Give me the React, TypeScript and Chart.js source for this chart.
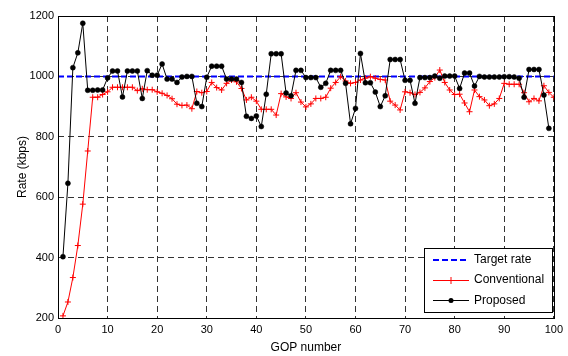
import React, { useEffect, useRef } from "react";
import { Chart, registerables } from "chart.js";

Chart.register(...registerables);

// Proposed method, GOP 1..99 (kbps)
const proposed = [
  403, 646, 1029, 1078, 1176, 954, 954, 955, 955, 995,
  1018, 1018, 932, 1018, 1018, 1018, 927, 1019, 1004, 1004,
  1041, 991, 991, 980, 998, 1000, 1000, 911, 900, 997,
  1034, 1034, 1034, 991, 991, 991, 980, 868, 861, 869,
  834, 941, 1075, 1075, 1075, 945, 936, 1020, 1020, 996,
  996, 996, 964, 977, 1020, 1020, 1020, 977, 843, 894,
  1076, 979, 979, 948, 900, 936, 1056, 1056, 1056, 987,
  987, 911, 996, 996, 996, 1001, 994, 1001, 1001, 1001,
  960, 1011, 1011, 968, 1000, 998, 998, 998, 998, 999,
  999, 998, 994, 931, 1023, 1023, 1023, 938, 828,
];

// Conventional method, GOP 1..100 (kbps)
const conventional = [
  207, 253, 334, 440, 577, 753, 931, 931, 940, 949,
  964, 964, 964, 964, 964, 953, 959, 956, 956, 949,
  944, 937, 926, 908, 904, 905, 893, 950, 946, 950,
  980, 963, 955, 977, 988, 982, 960, 922, 931, 918,
  891, 891, 891, 872, 943, 932, 927, 946, 915, 899,
  909, 927, 927, 931, 961, 980, 999, 985, 977, 980,
  988, 994, 999, 994, 990, 988, 918, 905, 889, 949,
  946, 940, 947, 962, 983, 996, 1021, 980, 955, 940,
  941, 912, 883, 955, 933, 922, 903, 909, 927, 977,
  974, 974, 974, 946, 916, 927, 919, 969, 947, 931,
];

const targetGop = [0, 100];
const targetRate = [1000, 1000];

const legendLabels = ["Target rate", "Conventional", "Proposed"];
const xTitle = "GOP number";
const yTitle = "Rate (kbps)";

const FONT = "'Liberation Sans', Arial, Helvetica, sans-serif";

const framePlugin = {
  id: "frameAndLegend",
  afterDatasetsDraw(chart: any) {
    const { ctx, chartArea: a } = chart;
    ctx.save();
    ctx.strokeStyle = "#000";
    ctx.lineWidth = 1;
    ctx.setLineDash([]);
    const L = Math.round(a.left), T = Math.round(a.top);
    const R = Math.round(a.right), B = Math.round(a.bottom);
    ctx.strokeRect(L + 0.5, T + 0.5, R - L, B - T);

    // legend box
    const w = 128, h = 64;
    const x0 = R - 2 - w;
    const y0 = B - 6 - h;
    ctx.fillStyle = "#fff";
    ctx.fillRect(x0, y0, w, h);
    ctx.strokeRect(x0 + 0.5, y0 + 0.5, w, h);

    const lx1 = x0 + 9, lx2 = x0 + 45, mx = (lx1 + lx2) / 2;
    const rows = [y0 + 12, y0 + 32, y0 + 52.5];

    // Target rate
    ctx.strokeStyle = "#0000ff";
    ctx.lineWidth = 2;
    ctx.setLineDash([6, 3]);
    ctx.beginPath();
    ctx.moveTo(lx1, rows[0]);
    ctx.lineTo(lx2, rows[0]);
    ctx.stroke();
    ctx.setLineDash([]);

    // Conventional
    ctx.strokeStyle = "#ff0000";
    ctx.lineWidth = 1;
    ctx.beginPath();
    ctx.moveTo(lx1, rows[1] + 0.5);
    ctx.lineTo(lx2, rows[1] + 0.5);
    ctx.moveTo(mx, rows[1] - 3);
    ctx.lineTo(mx, rows[1] + 4);
    ctx.stroke();

    // Proposed
    ctx.strokeStyle = "#000";
    ctx.fillStyle = "#000";
    ctx.beginPath();
    ctx.moveTo(lx1, rows[2]);
    ctx.lineTo(lx2, rows[2]);
    ctx.stroke();
    ctx.beginPath();
    ctx.arc(mx, rows[2], 2.5, 0, Math.PI * 2);
    ctx.fill();

    ctx.fillStyle = "#000";
    ctx.font = `12px ${FONT}`;
    ctx.textBaseline = "middle";
    ctx.textAlign = "left";
    legendLabels.forEach((t, i) => ctx.fillText(t, x0 + 50, rows[i]));
    ctx.restore();
  },
};

export default function App() {
  const ref = useRef<HTMLCanvasElement | null>(null);

  useEffect(() => {
    if (!ref.current) return;
    const chart = new Chart(ref.current, {
      type: "line",
      data: {
        datasets: [
          {
            label: legendLabels[0],
            data: targetGop.map((x, i) => ({ x, y: targetRate[i] })),
            borderColor: "#0000ff",
            borderWidth: 2,
            borderDash: [6, 3],
            pointRadius: 0,
            fill: false,
            order: 2,
          },
          {
            label: legendLabels[1],
            data: conventional.map((y, i) => ({ x: i + 1, y })),
            borderColor: "#ff0000",
            backgroundColor: "#ff0000",
            borderWidth: 1,
            pointStyle: "cross",
            pointRadius: 3,
            pointBorderWidth: 1,
            pointBorderColor: "#ff0000",
            fill: false,
            tension: 0,
            order: 1,
          },
          {
            label: legendLabels[2],
            data: proposed.map((y, i) => ({ x: i + 1, y })),
            borderColor: "#000000",
            backgroundColor: "#000000",
            borderWidth: 1,
            pointStyle: "circle",
            pointRadius: 2.5,
            pointBorderWidth: 0.5,
            pointBackgroundColor: "#000",
            pointBorderColor: "#000",
            fill: false,
            tension: 0,
            order: 0,
          },
        ],
      },
      options: {
        animation: false,
        responsive: false,
        devicePixelRatio: 1,
        layout: { padding: { top: 16, right: 10, left: 0, bottom: 0 } },
        plugins: {
          legend: { display: false },
          tooltip: { enabled: false },
          title: { display: false },
        },
        scales: {
          x: {
            type: "linear",
            min: 0,
            max: 100,
            afterFit: (s: any) => {
              s.height = 38;
            },
            ticks: {
              stepSize: 10,
              autoSkip: false,
              maxRotation: 0,
              padding: 5,
              color: "#000",
              font: { size: 11, family: FONT },
              callback: (v: any) => String(v),
            },
            grid: { color: "rgba(0,0,0,0.8)", lineWidth: 1, drawTicks: false },
            border: { display: false, dash: [6, 4] },
            title: {
              display: true,
              text: xTitle,
              color: "#000",
              font: { size: 12, family: FONT },
              padding: { top: 0, bottom: 1 },
            },
          },
          y: {
            type: "linear",
            min: 200,
            max: 1200,
            afterFit: (s: any) => {
              s.width = 58;
            },
            ticks: {
              stepSize: 200,
              padding: 4,
              color: "#000",
              font: { size: 11, family: FONT },
              callback: (v: any) => String(v),
            },
            grid: { color: "rgba(0,0,0,0.8)", lineWidth: 1, drawTicks: false },
            border: { display: false, dash: [6, 4] },
            title: {
              display: true,
              text: yTitle,
              color: "#000",
              font: { size: 12, family: FONT },
              padding: { top: 15, bottom: 0 },
            },
          },
        },
      },
      plugins: [framePlugin],
    });
    return () => chart.destroy();
  }, []);

  return (
    <div
      style={{
        position: "fixed",
        left: 0,
        top: 0,
        width: 568,
        height: 356,
        background: "#fff",
      }}
    >
      <canvas ref={ref} width={568} height={356} style={{ display: "block" }} />
    </div>
  );
}
